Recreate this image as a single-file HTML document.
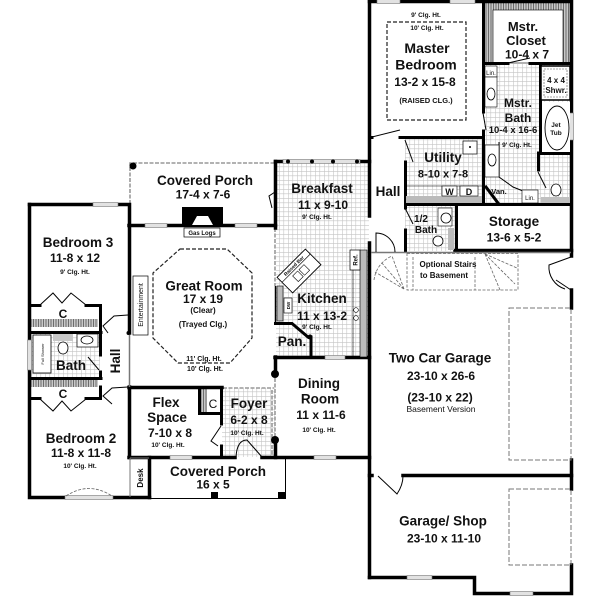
<!DOCTYPE html>
<html><head><meta charset="utf-8">
<style>
html,body{margin:0;padding:0;background:#fff;}
svg{display:block;}
text{font-family:"Liberation Sans",Arial,sans-serif;font-weight:bold;fill:#111;text-anchor:middle;}
.L{font-size:13.5px}
.D{font-size:12px}
.S{font-size:6.5px}
.M{font-size:8px}
.n{font-weight:normal}
</style></head><body>
<svg width="600" height="600" viewBox="0 0 600 600" xmlns="http://www.w3.org/2000/svg">
<defs>
<pattern id="tile" width="4.5" height="4.5" patternUnits="userSpaceOnUse">
<path d="M0 0.3H4.5M0.3 0V4.5" stroke="#c4c4c4" stroke-width="0.6" fill="none"/>
</pattern>
<pattern id="hatch" width="2.5" height="2.5" patternUnits="userSpaceOnUse">
<rect width="2.5" height="2.5" fill="#c8c8c8"/><path d="M1 0V2.5" stroke="#555" stroke-width="0.8"/>
</pattern>
</defs>
<rect width="600" height="600" fill="#fff"/>

<!-- tiled floors -->
<rect x="276" y="163" width="93" height="194" fill="url(#tile)"/>
<rect x="222" y="388" width="53" height="69" fill="url(#tile)"/>
<rect x="484" y="64" width="87" height="140" fill="url(#tile)"/>
<rect x="405" y="138" width="78" height="66" fill="url(#tile)"/>
<rect x="405" y="205" width="52" height="46" fill="url(#tile)"/>
<rect x="30" y="332" width="70" height="46" fill="url(#tile)"/>

<!-- dashed porch / opening lines -->
<g stroke="#999" stroke-width="1.6" fill="none" stroke-dasharray="4,1.5">
<path d="M130 204 V163 H274"/>
<path d="M275 228 V286"/>
<path d="M223 388 H274"/>
<path d="M275 378 V437"/>
<path d="M272 390 V455"/>
</g>

<!-- master closet hatch -->
<rect x="485" y="3" width="86" height="7" fill="url(#hatch)"/>
<rect x="485" y="3" width="8" height="60" fill="url(#hatch)"/>
<rect x="563" y="3" width="8" height="60" fill="url(#hatch)"/>
<rect x="493" y="10" width="70" height="53" fill="#fff" stroke="#000" stroke-width="0.6"/>

<!-- left closets hatch -->
<rect x="31" y="319" width="67" height="8" fill="url(#hatch)"/>
<rect x="31" y="380" width="67" height="7" fill="url(#hatch)"/>
<rect x="201" y="389" width="6" height="23" fill="url(#hatch)"/>

<!-- main walls -->
<g stroke="#000" stroke-width="3.5" fill="none" stroke-linecap="square">
<path d="M29.5 204.5 V497.5 H149.5"/>
<path d="M29.5 204.5 H129.5 V333"/>
<path d="M129.5 387 V457.5"/>
<path d="M149.5 457.5 V497.5"/>
<path d="M129 225.5 H275.5"/>
<path d="M275.5 161.5 V228"/>
<path d="M275.5 161.5 H369.5"/>
<path d="M369.5 1.5 V216"/>
<path d="M369.5 243 V577.5"/>
<path d="M369.5 1.5 H571.5 V256"/>
<path d="M571.5 290 V308"/>
<path d="M571.5 460 V489"/>
<path d="M571.5 565 V593.5 H474.5 V577.5 H369.5"/>
<path d="M129 387.5 H222"/>
<path d="M129 457.5 H235"/>
<path d="M262 457.5 H369.5"/>
<path d="M275 357.5 H369.5"/>
<path d="M275.5 357 V372"/>
<path d="M275.5 441 V457.5"/>
<path d="M403 475.5 H571.5"/>
<path d="M369.5 475.5 H372"/>
<path d="M455 250.5 H571.5"/>
</g>
<g stroke="#000" stroke-width="3" fill="none" stroke-linecap="square">
<path d="M29.5 305.5 H40 M86 305.5 H100.5 V332"/>
<path d="M29.5 332.5 H101"/>
<path d="M29.5 378.5 H101"/>
<path d="M29.5 398.5 H40 M86 398.5 H100.5 V387"/>
<path d="M100.5 332 V355 M100.5 372 V378"/>
<path d="M221.5 387.5 V424 M221.5 446 V457.5"/>
<path d="M199.5 387.5 V413.5 H221.5"/>
<path d="M275.5 323.5 H292 L308 337"/>
<path d="M311 337 V357"/>
<path d="M369.5 137.5 H372 M400 137.5 H483.5"/>
<path d="M483.5 1.5 V112 M483.5 131 V204.5"/>
<path d="M483.5 63.5 H508 M530 63.5 H571.5"/>
<path d="M405.5 162 V208 M405.5 230 V251"/>
<path d="M405.5 204.5 H571.5"/>
<path d="M456.5 204.5 V251"/>
<path d="M540.5 64 V153.5 H571.5"/>
<path d="M538.5 153 V170"/>
<path d="M486 187 L498 203"/>
</g>

<!-- thin walls / lines -->
<g stroke="#000" stroke-width="1" fill="none">
<path d="M129.5 333 V387" stroke="#777" stroke-width="1.5"/>
<path d="M130 458 H149 M130 458 V497" stroke="#777"/>
<path d="M149.5 498.5 H285.5 V457.5"/>
<path d="M275.5 286 V323" stroke-width="1.5"/>
<path d="M371 252.5 H571" stroke="#777" stroke-width="1.5"/>
<!-- bifold doors left -->
<path d="M40 305 L53 293 L62 303 L71 293 L86 305"/>
<path d="M40 399 L53 411 L62 401 L71 411 L86 399"/>
<path d="M128 315 L114 316 L103 326 L108 333"/>
<path d="M128 387 L112 388 L103 396 L112 404"/>
<path d="M88 357 L99 370"/>
<!-- flex doors -->
<path d="M221 426 L211 441 L218 446"/>
<!-- foyer door -->
<path d="M236 457 Q237 440 247 440 L262 457"/>
<!-- porch door -->
<path d="M275 192 L269 196 L272 208"/>
<!-- master door -->
<path d="M372 137 L400 130"/>
<path d="M483 113 L486 130"/>
<path d="M508 63 L530 58"/>
<!-- utility / half bath doors -->
<path d="M405 140 L413 162"/>
<path d="M405 208 L413 224"/>
<!-- hall door into garage -->
<path d="M376 252 V233 A19 19 0 0 1 395 252"/>
<!-- garage right doors -->
<path d="M571 257 L549 265 A23 23 0 0 0 565 289"/>
<path d="M571 290 L556 280"/>
<!-- garage/shop door -->
<path d="M378 476 L397 494 Q403 485 403 476"/>
<!-- toilet-room door -->
<path d="M538 172 L546 188"/>
<!-- bath counter outline -->
<path d="M499 142 V177 L513 187 L523 191"/>
</g>

<!-- windows -->
<g fill="#e2e2e2" stroke="#777" stroke-width="0.6">
<rect x="93" y="202.5" width="25" height="4"/>
<rect x="27.5" y="340" width="4" height="30"/>
<rect x="65" y="495.5" width="48" height="4"/>
<rect x="145" y="223.5" width="22" height="4"/>
<rect x="235" y="223.5" width="22" height="4"/>
<rect x="283" y="159.5" width="77" height="4"/>
<rect x="377" y="-0.5" width="23" height="4"/>
<rect x="450" y="-0.5" width="25" height="4"/>
<rect x="569.5" y="113" width="4" height="27"/>
<rect x="170" y="455.5" width="22" height="4"/>
<rect x="314" y="455.5" width="22" height="4"/>
<rect x="325" y="355.5" width="20" height="4"/>
<rect x="407" y="575.5" width="25" height="4"/>
<rect x="510" y="591.5" width="23" height="4"/>
</g>
<path d="M66 496 Q89 481 112 496" stroke="#666" stroke-width="0.8" fill="none" stroke-dasharray="3,1.5"/>

<!-- posts / dots -->
<g fill="#000">
<circle cx="133" cy="166" r="3.5"/>
<circle cx="275" cy="374" r="4"/>
<circle cx="275" cy="440" r="4"/>
<circle cx="128.5" cy="333" r="2"/>
<circle cx="288" cy="161.5" r="2"/>
<circle cx="312" cy="161.5" r="2"/>
<circle cx="333" cy="161.5" r="2"/>
<circle cx="357" cy="161.5" r="2"/>
<circle cx="310" cy="337" r="2.5"/>
<rect x="211" y="492" width="7" height="7"/>
<rect x="278" y="492" width="7" height="7"/>
</g>

<!-- fireplace -->
<rect x="182" y="207" width="41" height="18" fill="#000"/>
<polygon points="192,225 197,216 208,216 213,225" fill="#fff"/>
<rect x="184" y="228" width="36" height="9" fill="#fff" stroke="#000" stroke-width="0.7"/>
<text x="202" y="235" style="font-size:6px">Gas Logs</text>

<!-- great room tray -->
<polygon points="180,249 227,249 252,273 252,338 230,363 178,363 153,338 153,273" fill="none" stroke="#222" stroke-width="1.2" stroke-dasharray="4,2"/>
<rect x="133" y="276" width="15" height="59" fill="#fff" stroke="#000" stroke-width="0.7"/>
<text x="143" y="305" transform="rotate(-90 143 305)" class="n" style="font-size:7px">Entertainment</text>

<!-- master raised ceiling -->
<rect x="387" y="22" width="79" height="98" fill="none" stroke="#222" stroke-width="1.2" stroke-dasharray="4,2"/>

<!-- left bath fixtures -->
<rect x="33" y="335" width="18" height="38" fill="#fff" stroke="#000" stroke-width="0.8"/>
<text x="44" y="354" transform="rotate(-90 44 354)" class="n" style="font-size:4px">Full Shower</text>
<rect x="53" y="334" width="20" height="7" fill="#c8c8c8"/>
<ellipse cx="63" cy="348" rx="5" ry="6" fill="#fff" stroke="#000" stroke-width="0.8"/>
<rect x="77" y="334" width="21" height="13" fill="#fff" stroke="#000" stroke-width="0.7"/>
<ellipse cx="87" cy="340" rx="6" ry="4" fill="#fff" stroke="#000" stroke-width="0.8"/>

<!-- kitchen -->
<rect x="277" y="286" width="6" height="35" fill="#bbb" stroke="#000" stroke-width="0.6"/>
<rect x="284" y="298" width="8" height="15" fill="#fff" stroke="#000" stroke-width="0.6"/>
<text x="290" y="305.5" transform="rotate(-90 290 305.5)" style="font-size:4.5px">DW</text>
<g transform="translate(299,271) rotate(-45)">
<rect x="-20" y="-11" width="40" height="22" fill="#fff" stroke="#000" stroke-width="0.9"/>
<path d="M-20 -4 H20" stroke="#000" stroke-width="0.7"/>
<text x="0" y="-5.5" style="font-size:5px">Raised Bar</text>
<rect x="-8" y="-1" width="7" height="8" fill="#fff" stroke="#000" stroke-width="0.6"/>
<rect x="1" y="-1" width="7" height="8" fill="#fff" stroke="#000" stroke-width="0.6"/>
</g>
<rect x="360" y="250" width="7" height="107" fill="#bbb" stroke="#000" stroke-width="0.6"/>
<rect x="350" y="250" width="10" height="20" fill="#fff" stroke="#000" stroke-width="0.7"/>
<text x="357.5" y="260" transform="rotate(-90 357.5 260)" style="font-size:6px">Ref.</text>
<path d="M353 270 V357" stroke="#000" stroke-width="0.6"/>
<circle cx="356" cy="310" r="2.3" fill="#fff" stroke="#000" stroke-width="0.6"/>
<circle cx="356" cy="318" r="2.3" fill="#fff" stroke="#000" stroke-width="0.6"/>

<!-- master bath fixtures -->
<rect x="485" y="66" width="12" height="11" fill="#fff" stroke="#000" stroke-width="0.6"/>
<rect x="485" y="77" width="12" height="30" fill="#fff" stroke="#000" stroke-width="0.6"/>
<ellipse cx="491" cy="94" rx="4" ry="6" fill="#fff" stroke="#000" stroke-width="0.8"/>
<rect x="541" y="66" width="29" height="34" fill="#fff" stroke="#000" stroke-width="1.5"/>
<rect x="544" y="69" width="23" height="28" fill="none" stroke="#555" stroke-width="0.6" stroke-dasharray="2,1"/>
<rect x="542" y="102" width="28" height="50" fill="#fff"/>
<ellipse cx="557" cy="128" rx="12" ry="22" fill="#fff" stroke="#000" stroke-width="0.9"/>
<rect x="485" y="145" width="14" height="32" fill="#fff" stroke="#000" stroke-width="0.6"/>
<ellipse cx="492" cy="160" rx="4" ry="6" fill="#fff" stroke="#000" stroke-width="0.8"/>
<rect x="522" y="190" width="16" height="13" fill="#fff" stroke="#000" stroke-width="0.6"/>
<rect x="541" y="197" width="29" height="6" fill="#c0c0c0"/>
<ellipse cx="556" cy="190" rx="5" ry="6" fill="#fff" stroke="#000" stroke-width="0.8"/>

<!-- utility -->
<rect x="463" y="141" width="14" height="13" fill="#fff" stroke="#000" stroke-width="0.7"/>
<circle cx="470" cy="147" r="1" fill="#000"/>
<path d="M406 186 H482" stroke="#000" stroke-width="0.6"/>
<rect x="406" y="196" width="76" height="7" fill="#bbb"/>
<rect x="442" y="186" width="15" height="10" fill="#fff" stroke="#000" stroke-width="0.6"/>
<rect x="460" y="186" width="18" height="10" fill="#fff" stroke="#000" stroke-width="0.6"/>

<!-- half bath -->
<rect x="438" y="208" width="14" height="18" fill="#fff" stroke="#000" stroke-width="0.6"/>
<circle cx="446" cy="218" r="5" fill="#fff" stroke="#000" stroke-width="0.8"/>
<ellipse cx="438" cy="241" rx="5" ry="5" fill="#fff" stroke="#000" stroke-width="0.8"/>
<rect x="448" y="228" width="6" height="22" fill="#bbb"/>

<!-- stairs -->
<g stroke="#666" stroke-width="0.8" fill="none" stroke-dasharray="3,1.5">
<rect x="407" y="253.5" width="111" height="36.5"/>
<path d="M413 257 V290 M475 257 V290"/>
<path d="M485 254 L517 268 M485 254 L515 284 M485 254 L500 290"/>
<path d="M404 289 L375 272 M404 289 L381 262 M404 289 L392 256"/>
<path d="M374 280 A30 30 0 0 1 392 256"/>
</g>

<!-- garage doors -->
<g stroke="#777" stroke-width="1" fill="none" stroke-dasharray="5,2">
<rect x="509" y="308" width="62" height="152"/>
<rect x="509" y="489" width="62" height="76"/>
</g>

<!-- text -->
<text class="L" x="205" y="185">Covered Porch</text>
<text class="D" x="203" y="198.5">17-4 x 7-6</text>

<text class="L" x="78" y="247">Bedroom 3</text>
<text class="D" x="75" y="262">11-8 x 12</text>
<text class="S" x="75" y="274">9' Clg. Ht.</text>

<text class="L" x="204" y="290.5">Great Room</text>
<text class="D" x="203" y="303">17 x 19</text>
<text class="M" x="203" y="313">(Clear)</text>
<text class="M" x="203" y="327">(Trayed Clg.)</text>
<text x="204" y="361" style="font-size:7px">11' Clg. Ht.</text>
<text x="205" y="371" style="font-size:7px">10' Clg. Ht.</text>

<text x="63" y="318" style="font-size:12px">C</text>
<text class="L" x="71" y="370">Bath</text>
<text class="L" x="120" y="361" transform="rotate(-90 120 361)">Hall</text>
<text x="63" y="398" style="font-size:12px">C</text>

<text class="L" x="81" y="443">Bedroom 2</text>
<text class="D" x="81" y="457">11-8 x 11-8</text>
<text class="S" x="80" y="468">10' Clg. Ht.</text>

<text class="L" x="166" y="407">Flex</text>
<text class="L" x="167" y="422">Space</text>
<text class="D" x="170" y="437">7-10 x 8</text>
<text class="S" x="168" y="447">10' Clg. Ht.</text>
<text x="213" y="408" class="n" style="font-size:12px">C</text>

<text class="L" x="249" y="408">Foyer</text>
<text class="D" x="249" y="424">6-2 x 8</text>
<text class="S" x="247" y="435">10' Clg. Ht.</text>

<text x="143" y="478" transform="rotate(-90 143 478)" style="font-size:8px">Desk</text>
<text class="L" x="218" y="476">Covered Porch</text>
<text class="D" x="213" y="488.5">16 x 5</text>

<text class="L" x="322" y="193">Breakfast</text>
<text class="D" x="323" y="209">11 x 9-10</text>
<text class="S" x="317" y="219">9' Clg. Ht.</text>

<text class="L" x="322" y="303">Kitchen</text>
<text class="D" x="322" y="320">11 x 13-2</text>
<text class="S" x="317" y="329">9' Clg. Ht.</text>
<text class="L" x="292" y="346">Pan.</text>

<text class="L" x="319" y="388">Dining</text>
<text class="L" x="320" y="403.5">Room</text>
<text class="D" x="321" y="419">11 x 11-6</text>
<text class="S" x="319" y="432">10' Clg. Ht.</text>

<text class="L" x="388" y="196">Hall</text>

<text class="S" x="426" y="17">9' Clg. Ht.</text>
<text class="S" x="427" y="30">10' Clg. Ht.</text>
<text x="427" y="53" style="font-size:14px">Master</text>
<text x="426" y="69.5" style="font-size:14px">Bedroom</text>
<text class="D" x="425" y="86">13-2 x 15-8</text>
<text x="426" y="103" style="font-size:7.5px">(RAISED CLG.)</text>

<text x="523" y="31" style="font-size:13px">Mstr.</text>
<text x="526" y="45" style="font-size:13px">Closet</text>
<text class="D" x="527" y="58.5">10-4 x 7</text>

<text x="491" y="75" class="n" style="font-size:6px">Lin.</text>
<text x="556" y="83" style="font-size:8px">4 x 4</text>
<text x="556" y="93" style="font-size:8px">Shwr.</text>
<text x="518" y="107" style="font-size:12px">Mstr.</text>
<text x="518" y="122" style="font-size:12px">Bath</text>
<text x="513" y="133" style="font-size:9.5px">10-4 x 16-6</text>
<text class="S" x="517" y="147">9' Clg. Ht.</text>
<text x="556" y="127" style="font-size:6.5px">Jet</text>
<text x="556" y="135" style="font-size:6.5px">Tub</text>

<text class="L" x="443" y="162">Utility</text>
<text x="443" y="177.5" style="font-size:11px">8-10 x 7-8</text>
<text x="449.5" y="195" style="font-size:9px">W</text>
<text x="469" y="195" style="font-size:9px">D</text>
<text x="499" y="194" style="font-size:7.5px">Van.</text>
<text x="530" y="200" class="n" style="font-size:6px">Lin.</text>

<text x="421" y="222" style="font-size:10px">1/2</text>
<text x="426" y="233" style="font-size:10px">Bath</text>

<text class="L" x="514" y="226">Storage</text>
<text class="D" x="514" y="241.5">13-6 x 5-2</text>

<text x="448" y="267" style="font-size:8px">Optional Stairs</text>
<text x="444" y="278" style="font-size:8px">to Basement</text>

<text class="L" x="440" y="362.5">Two Car Garage</text>
<text class="D" x="441" y="380">23-10 x 26-6</text>
<text class="D" x="440" y="401.5">(23-10 x 22)</text>
<text x="441" y="412" class="n" style="font-size:8.5px">Basement Version</text>

<text class="L" x="443" y="525.5">Garage/ Shop</text>
<text class="D" x="444" y="542.5">23-10 x 11-10</text>
</svg>
</body></html>
